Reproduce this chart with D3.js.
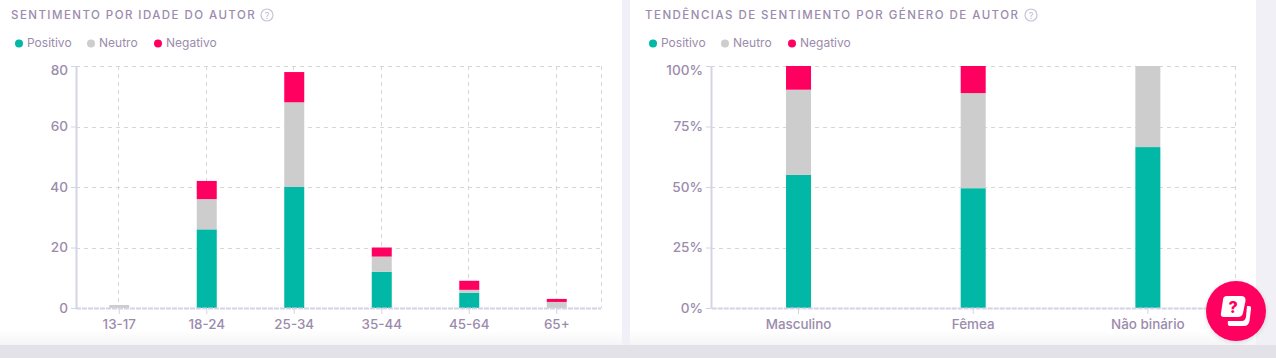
<!DOCTYPE html>
<html>
<head>
<meta charset="utf-8">
<script src="https://cdn.jsdelivr.net/npm/d3@7"></script>
<style>
  html, body { margin: 0; padding: 0; background: #fff; overflow: hidden; }
  text { font-family: Inter, "Noto Sans", sans-serif; fill: #9b8bac; }
</style>
</head>
<body>
<svg id="chart" width="1276" height="358"></svg>
<script>
// data
const ageGroups = ["13-17", "18-24", "25-34", "35-44", "45-64", "65+"];
const agePositive = [0, 26, 40, 12, 5, 0];
const ageNeutral = [1, 10, 28, 5, 1, 2];
const ageNegative = [0, 6, 10, 3, 3, 1];
const ageTicks = [0, 20, 40, 60, 80];

const genders = ["Masculino", "Fêmea", "Não binário"];
const genderPositive = [55, 49.5, 66.5];
const genderNeutral = [35.2, 39.3, 33.5];
const genderNegative = [9.8, 11.2, 0];
const genderTicks = [0, 25, 50, 75, 100];

const seriesNames = ["Positivo", "Neutro", "Negativo"];
const seriesKeys = ["pos", "neu", "neg"];
const colors = ["#00b8a5", "#cdcdcd", "#ff0060"];

const dimensions = { top: 66, bottom: 308 };

const svg = d3.select("#chart");

// page background, gutter and the fade at the bottom of the cards
const defs = svg.append("defs");
const fade = defs.append("linearGradient").attr("id", "fade").attr("x1", 0).attr("x2", 0).attr("y1", 0).attr("y2", 1);
fade.append("stop").attr("offset", 0).attr("stop-color", "#fff");
fade.append("stop").attr("offset", 1).attr("stop-color", "#f5f5f7");
const shade = defs.append("filter").attr("id", "shade").attr("x", "-30%").attr("y", "-30%").attr("width", "160%").attr("height", "160%");
shade.append("feDropShadow").attr("dx", 0).attr("dy", 1).attr("stdDeviation", 2).attr("flood-opacity", 0.15);

svg.append("rect").attr("width", 1276).attr("height", 358).attr("fill", "#f1f0f6");
svg.append("rect").attr("x", 0).attr("y", 0).attr("width", 622).attr("height", 345).attr("fill", "#fff");
svg.append("rect").attr("x", 630).attr("y", 0).attr("width", 626).attr("height", 345).attr("fill", "#fff");
svg.append("rect").attr("x", 0).attr("y", 330).attr("width", 622).attr("height", 15).attr("fill", "url(#fade)");
svg.append("rect").attr("x", 630).attr("y", 330).attr("width", 626).attr("height", 15).attr("fill", "url(#fade)");
svg.append("rect").attr("x", 0).attr("y", 345).attr("width", 1276).attr("height", 13).attr("fill", "#e3e2e8");

function drawChart(opts) {
  const rows = opts.categories.map((c, i) => ({
    cat: c, pos: opts.positive[i], neu: opts.neutral[i], neg: opts.negative[i]
  }));

  const xScale = d3.scaleBand()
    .domain(opts.categories)
    .range([opts.left + opts.nudge, opts.right + opts.nudge]);

  const yScale = d3.scaleLinear()
    .domain([0, opts.max])
    .range([dimensions.bottom, dimensions.top]);

  const g = svg.append("g");

  // title with help icon
  g.append("text")
    .attr("x", opts.titleX).attr("y", 19)
    .attr("font-size", 11.5).attr("font-weight", 500)
    .attr("letter-spacing", opts.titleSpacing)
    .text(opts.title);
  g.append("circle").attr("cx", opts.iconX).attr("cy", 15).attr("r", 6)
    .attr("fill", "none").attr("stroke", "#c9c2dc").attr("stroke-width", 1.2);
  g.append("text").attr("x", opts.iconX).attr("y", 18.5).attr("text-anchor", "middle")
    .attr("font-size", 9).style("fill", "#c0b8d4").text("?");

  // legend
  const legendX = [opts.titleX + 8, opts.titleX + 80, opts.titleX + 147];
  seriesNames.forEach((name, i) => {
    g.append("circle").attr("cx", legendX[i]).attr("cy", 43.5).attr("r", 4).attr("fill", colors[i]);
    g.append("text").attr("x", legendX[i] + 8).attr("y", 47)
      .attr("font-size", 12).text(name);
  });

  // grid
  const grid = g.append("g")
    .attr("stroke", "#d6d5da").attr("stroke-dasharray", "4,4").attr("stroke-width", 1);
  grid.selectAll(".h").data(opts.ticks.slice(1)).enter().append("line")
    .attr("x1", opts.left).attr("x2", opts.right)
    .attr("y1", d => Math.round(yScale(d)) + 0.5).attr("y2", d => Math.round(yScale(d)) + 0.5);
  grid.selectAll(".v").data(opts.categories).enter().append("line")
    .attr("x1", d => Math.round(xScale(d) + xScale.bandwidth() / 2) - 0.5)
    .attr("x2", d => Math.round(xScale(d) + xScale.bandwidth() / 2) - 0.5)
    .attr("y1", dimensions.top).attr("y2", dimensions.bottom);
  grid.append("line")
    .attr("x1", opts.right + 0.5).attr("x2", opts.right + 0.5)
    .attr("y1", dimensions.top).attr("y2", dimensions.bottom);

  // stacked bars
  const stacked = d3.stack().keys(seriesKeys)(rows);
  g.selectAll(".series").data(stacked).enter().append("g")
    .attr("fill", (d, i) => colors[i])
    .selectAll("rect").data(d => d).enter().append("rect")
    .attr("x", d => xScale(d.data.cat) + (xScale.bandwidth() - opts.barWidth) / 2)
    .attr("width", opts.barWidth)
    .attr("y", d => yScale(d[1]))
    .attr("height", d => yScale(d[0]) - yScale(d[1]));

  // axes
  const xAxis = g.append("g")
    .attr("transform", "translate(0," + dimensions.bottom + ")")
    .call(d3.axisBottom(xScale).tickSize(6).tickSizeOuter(0).tickPadding(5));
  const yAxis = g.append("g")
    .attr("transform", "translate(" + opts.left + ",0)")
    .call(d3.axisLeft(yScale).tickValues(opts.ticks).tickSize(5).tickSizeOuter(0).tickPadding(3).tickFormat(opts.format));
  [xAxis, yAxis].forEach(a => {
    a.attr("font-family", null);
    a.selectAll("path").attr("stroke", "#d6d2e6").attr("stroke-width", 2);
    a.selectAll("line").attr("stroke", "#d6d2e6");
  });
  xAxis.select("path").attr("stroke-dasharray", "5,1");
  xAxis.selectAll("text").attr("font-size", 13.4).attr("font-weight", 500);
  yAxis.selectAll("text").attr("font-size", 13.6).attr("font-weight", 500);
  // the top label sits lower than its tick, clamped inside the plot
  yAxis.selectAll(".tick text").filter(d => d === opts.max).attr("y", 4.5);
}

drawChart({
  title: "SENTIMENTO POR IDADE DO AUTOR", titleX: 11, titleSpacing: 1.45, iconX: 267,
  categories: ageGroups, positive: agePositive, neutral: ageNeutral, negative: ageNegative,
  ticks: ageTicks, max: 80, left: 76, right: 601, nudge: -0.5, barWidth: 20, format: d => d
});

drawChart({
  title: "TENDÊNCIAS DE SENTIMENTO POR GÉNERO DE AUTOR", titleX: 645, titleSpacing: 1.47, iconX: 1031,
  categories: genders, positive: genderPositive, neutral: genderNeutral, negative: genderNegative,
  ticks: genderTicks, max: 100, left: 711, right: 1235, nudge: 0.2, barWidth: 25, format: d => d + "%"
});

// floating help button
const help = svg.append("g").attr("transform", "translate(1236,311)");
help.append("circle").attr("r", 30).attr("fill", "#ff0060").attr("filter", "url(#shade)");
help.append("path")
  .attr("d", "M-9,-15 H5 Q10,-15 9.5,-10 L7,2 Q6,6 2,6 H-12 Q-16,6 -15,2 L-13,-11 Q-13,-15 -9,-15 Z")
  .attr("fill", "#fff");
help.append("path")
  .attr("d", "M11,-5 H13 Q15.5,-5 15,-2 L13.5,10 Q12.5,15 8,15 H-6 Q-9,15 -8,10 H6 Q9,10 10,6 Z")
  .attr("fill", "#fff");
help.append("text").attr("x", -3).attr("y", 2).attr("text-anchor", "middle")
  .attr("font-size", 16).attr("font-weight", 800).style("fill", "#ff0060").text("?");
</script>
</body>
</html>
